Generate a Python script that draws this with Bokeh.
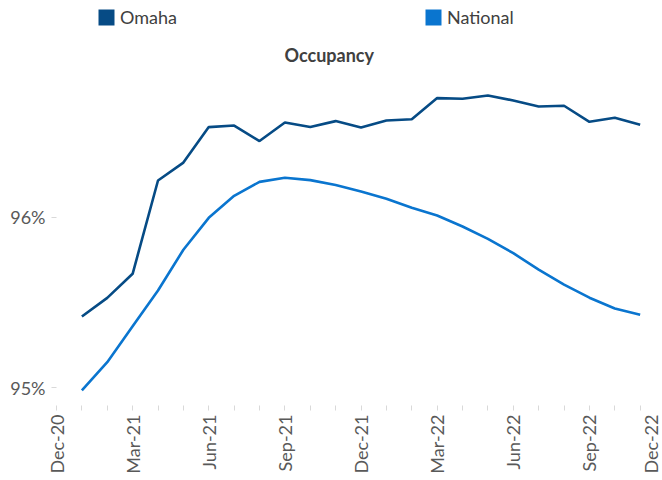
from bokeh.plotting import figure
from bokeh.models import (ColumnDataSource, FixedTicker, Legend, LegendItem, Range1d, Label)
from bokeh.embed import file_html
from bokeh.resources import INLINE
import math

# months since Dec-20 (Jan-21 = 1 ... Nov-22 = 23)
month_index = list(range(1, 24))
omaha = [95.418, 95.527, 95.668, 96.215, 96.320, 96.528, 96.537, 96.446, 96.555, 96.528,
         96.563, 96.526, 96.567, 96.574, 96.698, 96.694, 96.713, 96.684, 96.649, 96.653,
         96.559, 96.583, 96.542]
national = [94.984, 95.150, 95.360, 95.570, 95.809, 95.996, 96.125, 96.207, 96.231, 96.217,
            96.188, 96.151, 96.108, 96.055, 96.010, 95.945, 95.873, 95.789, 95.692, 95.604,
            95.528, 95.465, 95.428]
tick_positions = [0, 3, 6, 9, 12, 15, 18, 21, 24]
tick_labels = ["Dec-20", "Mar-21", "Jun-21", "Sep-21", "Dec-21", "Mar-22", "Jun-22", "Sep-22", "Dec-22"]
y_ticks = [95, 96]
y_tick_labels = ["95%", "96%"]
series_names = ["Omaha", "National"]
colors = ["#064B85", "#0A75CF"]
chart_title = "Occupancy"

X_START, X_END = 0, 23.88
Y_START, Y_END = 94.896, 97.27
FONT = "Lato"
AX_COLOR = "#595959"
TICK_COLOR = "#D9D9D9"

p = figure(width=662, height=480, output_backend="svg", toolbar_location=None, title=None,
           x_range=Range1d(X_START, X_END), y_range=Range1d(Y_START, Y_END),
           min_border_left=56, min_border_right=0, min_border_top=0, min_border_bottom=75)
p.outline_line_color = None
p.xgrid.grid_line_color = None
p.ygrid.grid_line_color = None

src = ColumnDataSource(dict(x=month_index, omaha=omaha, national=national))
p.line("x", "omaha", source=src, line_color=colors[0], line_width=2.6)
p.line("x", "national", source=src, line_color=colors[1], line_width=2.6)

# hidden zero-height areas, used only so that the legend shows filled squares
a1 = p.varea(x="x", y1="omaha", y2="omaha", source=src, fill_color=colors[0])
a2 = p.varea(x="x", y1="national", y2="national", source=src, fill_color=colors[1])
a1.visible = False
a2.visible = False

# x axis: monthly tick marks; quarter labels, the last one pulled inside the frame edge
label_positions = [min(t, X_END - 0.45) for t in tick_positions]
xa = p.xaxis[0]
xa.ticker = FixedTicker(ticks=label_positions,
                        minor_ticks=[m for m in range(0, 25) if m <= X_END])
xa.major_label_overrides = {t: l for t, l in zip(label_positions, tick_labels)}
xa.major_label_orientation = math.pi / 2
xa.axis_line_color = None
xa.major_tick_line_color = None
xa.minor_tick_line_color = TICK_COLOR
xa.major_tick_out = 5
xa.major_tick_in = 0
xa.minor_tick_out = 5
xa.minor_tick_in = 0
xa.major_label_standoff = 4
xa.major_label_text_font = FONT
xa.major_label_text_font_size = "18px"
xa.major_label_text_color = AX_COLOR

# y axis
ya = p.yaxis[0]
ya.ticker = FixedTicker(ticks=y_ticks, minor_ticks=[])
ya.major_label_overrides = {t: l for t, l in zip(y_ticks, y_tick_labels)}
ya.axis_line_color = None
ya.major_tick_line_color = TICK_COLOR
ya.major_tick_out = 5
ya.major_tick_in = 0
ya.major_label_standoff = 6
ya.major_label_text_font = FONT
ya.major_label_text_font_size = "18px"
ya.major_label_text_color = AX_COLOR

# chart title, placed below the legend
p.add_layout(Label(x=10.75, y=96.948, text=chart_title, text_align="center",
                   text_baseline="middle", text_font=FONT, text_font_size="18px",
                   text_font_style="bold", text_color="#404040"))

legend = Legend(items=[LegendItem(label=series_names[0], renderers=[a1]),
                       LegendItem(label=series_names[1], renderers=[a2])],
                orientation="horizontal", location=(40, 377),
                glyph_width=20, glyph_height=20, label_standoff=4,
                spacing=246, padding=0, margin=0, border_line_color=None,
                background_fill_alpha=0, label_text_font=FONT, label_text_font_size="18px",
                label_text_color="#404040", label_height=20)
p.add_layout(legend)

open("out.html", "w").write(file_html(p, INLINE))
